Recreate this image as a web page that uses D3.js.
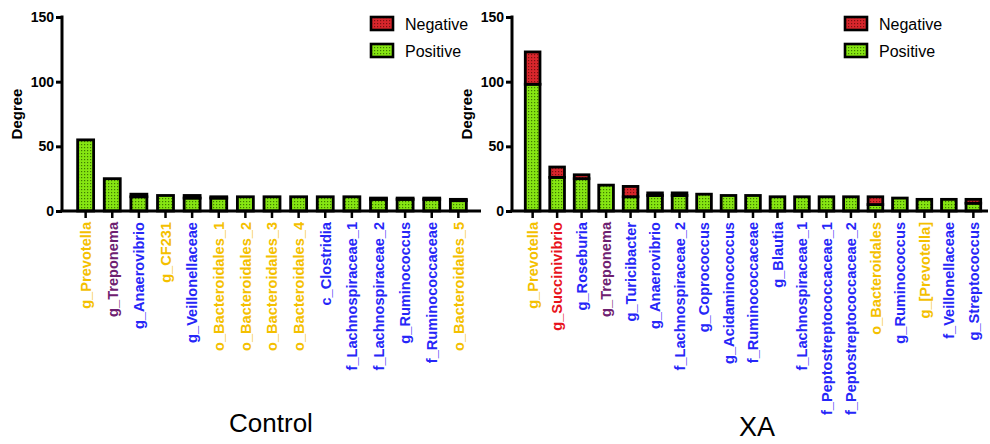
<!DOCTYPE html>
<html>
<head>
<meta charset="utf-8">
<script src="https://cdn.jsdelivr.net/npm/d3@7"></script>
<style>
  body { margin: 0; background: #fff; }
  svg { display: block; font-family: "Liberation Sans", Arial, sans-serif; }
</style>
</head>
<body>
<div id="chart"></div>
<script>
// Control group
var ctrlTaxa = ["g_Prevotella", "g_Treponema", "g_Anaerovibrio", "g_CF231", "g_Veillonellaceae",
  "o_Bacteroidales_1", "o_Bacteroidales_2", "o_Bacteroidales_3", "o_Bacteroidales_4", "c_Clostridia",
  "f_Lachnospiraceae_1", "f_Lachnospiraceae_2", "g_Ruminococcus", "f_Ruminococcaceae", "o_Bacteroidales_5"];
var ctrlPhylum = ["Bacteroidetes", "Spirochaetes", "Firmicutes", "Bacteroidetes", "Firmicutes",
  "Bacteroidetes", "Bacteroidetes", "Bacteroidetes", "Bacteroidetes", "Firmicutes",
  "Firmicutes", "Firmicutes", "Firmicutes", "Firmicutes", "Bacteroidetes"];
var ctrlPos = [55, 25, 11, 12, 10, 10, 11, 11, 11, 11, 11, 9, 9, 9, 8];
var ctrlNeg = [0, 0, 2, 0, 2, 1, 0, 0, 0, 0, 0, 1, 1, 1, 1];

// XA group
var xaTaxa = ["g_Prevotella", "g_Succinivibrio", "g_Roseburia", "g_Treponema", "g_Turicibacter",
  "g_Anaerovibrio", "f_Lachnospiraceae_2", "g_Coprococcus", "g_Acidaminococcus", "f_Ruminococcaceae",
  "g_Blautia", "f_Lachnospiraceae_1", "f_Peptostreptococcaceae_1", "f_Peptostreptococcaceae_2",
  "o_Bacteroidales", "g_Ruminococcus", "g_[Prevotella]", "f_Veillonellaceae", "g_Streptococcus"];
var xaPhylum = ["Bacteroidetes", "Proteobacteria", "Firmicutes", "Spirochaetes", "Firmicutes",
  "Firmicutes", "Firmicutes", "Firmicutes", "Firmicutes", "Firmicutes",
  "Firmicutes", "Firmicutes", "Firmicutes", "Firmicutes",
  "Bacteroidetes", "Firmicutes", "Bacteroidetes", "Firmicutes", "Firmicutes"];
var xaPos = [98, 26, 25, 20, 11, 12, 12, 13, 12, 12, 11, 11, 11, 11, 5, 10, 9, 9, 6];
var xaNeg = [25, 8, 3, 0, 8, 2, 2, 0, 0, 0, 0, 0, 0, 0, 6, 0, 0, 0, 3];

var yTicks = [0, 50, 100, 150];
var legendKeys = ["Negative", "Positive"];

var phylumColor = d3.scaleOrdinal()
  .domain(["Bacteroidetes", "Spirochaetes", "Firmicutes", "Proteobacteria"])
  .range(["#f4c000", "#6e2070", "#2626f8", "#e8121c"]);

var svg = d3.select("#chart").append("svg").attr("width", 990).attr("height", 444);

// 点状填充图案
var defs = svg.append("defs");
function dotPattern(id, bg, dot) {
  var p = defs.append("pattern").attr("id", id)
    .attr("width", 3).attr("height", 3).attr("patternUnits", "userSpaceOnUse");
  p.append("rect").attr("width", 3).attr("height", 3).attr("fill", bg);
  p.append("rect").attr("width", 1.2).attr("height", 1.2).attr("fill", dot);
}
dotPattern("dotGreen", "#86e612", "#3f7a00");
dotPattern("dotRed", "#d8262c", "#7a1010");
var fills = { Positive: "url(#dotGreen)", Negative: "url(#dotRed)" };

function Panel(g, opts) {
  this.g = g;
  this.opts = opts;
  this.render();
}
Panel.prototype = {
  constructor: Panel,
  render: function() {
    var o = this.opts, g = this.g;
    var x = d3.scaleBand().domain(o.taxa).range([o.x0, o.x1]).padding(0.4);
    var y = d3.scaleLinear().domain([0, 150]).range([211, 17]);

    var rows = o.taxa.map(function(t, i) {
      return { taxon: t, phylum: o.phylum[i], Positive: o.pos[i], Negative: o.neg[i] };
    });
    var series = d3.stack().keys(["Positive", "Negative"])(rows);

    g.selectAll("g.layer").data(series).enter().append("g")
      .attr("class", "layer")
      .attr("fill", function(d) { return fills[d.key]; })
      .selectAll("rect").data(function(d) { return d; }).enter().append("rect")
      .attr("x", function(d) { return x(d.data.taxon); })
      .attr("width", x.bandwidth())
      .attr("y", function(d) { return y(d[1]); })
      .attr("height", function(d) { return y(d[0]) - y(d[1]); })
      .attr("stroke", "#000").attr("stroke-width", 2.8);

    // y 轴
    var yAxis = g.append("g").attr("transform", "translate(" + o.axisX + ",0)")
      .call(d3.axisLeft(y).tickValues(yTicks).tickSize(6).tickPadding(2));
    yAxis.select(".domain").attr("stroke-width", 3).attr("d", "M0," + y(0) + "V" + (y(150) - 1.5));
    yAxis.selectAll(".tick line").attr("stroke-width", 3);
    yAxis.selectAll(".tick text").attr("font-size", 14).attr("font-weight", "bold")
      .attr("font-family", "Liberation Sans, Arial").attr("fill", "#000");

    // x 轴
    var xAxis = g.append("g").attr("transform", "translate(0," + y(0) + ")")
      .call(d3.axisBottom(x).tickSize(7).tickFormat(""));
    xAxis.select(".domain").attr("stroke-width", 3).attr("d", "M" + (o.axisX - 1.5) + ",0H" + o.axisEnd);
    xAxis.selectAll(".tick line").attr("stroke-width", 2.5);

    g.selectAll("text.taxon").data(rows).enter().append("text")
      .attr("class", "taxon")
      .attr("transform", function(d) {
        return "translate(" + (x(d.taxon) + x.bandwidth() / 2) + ",222) rotate(-90)";
      })
      .attr("text-anchor", "end").attr("dy", "0.36em")
      .attr("font-size", 14.6).attr("font-weight", "bold")
      .attr("fill", function(d) { return phylumColor(d.phylum); })
      .text(function(d) { return d.taxon; });

    g.append("text")
      .attr("transform", "translate(" + o.labelX + ",114) rotate(-90)")
      .attr("text-anchor", "middle").attr("font-size", 15).attr("font-weight", "bold")
      .text("Degree");

    // 图例
    var leg = g.selectAll("g.legend").data(legendKeys).enter().append("g")
      .attr("class", "legend")
      .attr("transform", function(d, i) { return "translate(" + o.legendX + "," + (17 + i * 27) + ")"; });
    leg.append("rect").attr("width", 22).attr("height", 13)
      .attr("fill", function(d) { return fills[d]; })
      .attr("stroke", "#000").attr("stroke-width", 2.6);
    leg.append("text").attr("x", 34).attr("y", 13).attr("font-size", 16)
      .attr("font-family", "Liberation Sans, Arial").text(function(d) { return d; });

    g.append("text").attr("x", o.titleX).attr("y", o.titleY)
      .attr("text-anchor", "middle").attr("font-size", o.titleSize)
      .text(o.title);
  }
};

new Panel(svg.append("g"), {
  taxa: ctrlTaxa, phylum: ctrlPhylum, pos: ctrlPos, neg: ctrlNeg,
  x0: 67, x1: 477, axisX: 62, axisEnd: 481, labelX: 22,
  legendX: 371, title: "Control", titleX: 271, titleY: 432, titleSize: 26
});
new Panel(svg.append("g"), {
  taxa: xaTaxa, phylum: xaPhylum, pos: xaPos, neg: xaNeg,
  x0: 515.5, x1: 990.5, axisX: 512, axisEnd: 988, labelX: 472,
  legendX: 845, title: "XA", titleX: 757, titleY: 436, titleSize: 27
});
</script>
</body>
</html>
